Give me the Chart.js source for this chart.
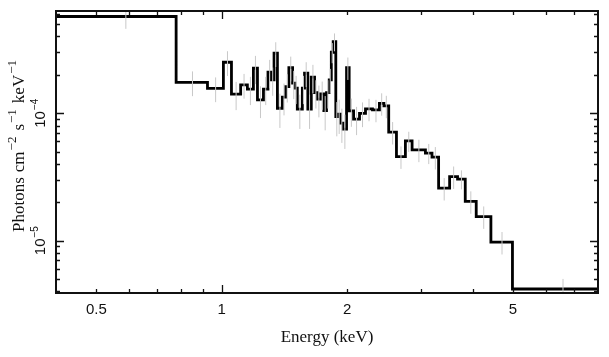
<!DOCTYPE html>
<html><head><meta charset="utf-8">
<script src="https://cdn.jsdelivr.net/npm/chart.js@4/dist/chart.umd.min.js"></script>
<style>html,body{margin:0;padding:0;background:#fff;}#wrap{width:609px;height:357px;position:relative;}</style>
</head><body><div id="wrap"><canvas id="c" width="609" height="357"></canvas></div>
<script>
// ---- data ----
const binEdges = [0.4, 0.777, 0.924, 1.009, 1.055, 1.110, 1.152, 1.191, 1.218, 1.259, 1.291, 1.315, 1.335, 1.360, 1.398, 1.423, 1.449, 1.479, 1.498, 1.518, 1.561, 1.580, 1.609, 1.640, 1.670, 1.695, 1.726, 1.758, 1.784, 1.811, 1.832, 1.851, 1.878, 1.899, 1.928, 1.956, 1.993, 2.022, 2.072, 2.141, 2.213, 2.300, 2.390, 2.450, 2.516, 2.626, 2.759, 2.863, 3.082, 3.196, 3.315, 3.523, 3.681, 3.841, 4.081, 4.426, 4.986, 8.2];
const fluxValues = [5.74e-4, 1.744e-4, 1.565e-4, 2.512e-4, 1.409e-4, 1.667e-4, 1.543e-4, 2.254e-4, 1.271e-4, 1.543e-4, 2.097e-4, 1.825e-4, 2.955e-4, 1.094e-4, 1.335e-4, 1.617e-4, 2.279e-4, 1.719e-4, 1.571e-4, 1.075e-4, 1.571e-4, 2.059e-4, 1.075e-4, 1.917e-4, 1.451e-4, 1.288e-4, 1.417e-4, 1.048e-4, 1.451e-4, 1.825e-4, 3.009e-4, 3.644e-4, 9.40e-5, 9.82e-5, 8.35e-5, 7.49e-5, 2.279e-4, 1.042e-4, 8.97e-5, 9.96e-5, 1.081e-4, 1.061e-4, 1.194e-4, 1.141e-4, 7.10e-5, 4.57e-5, 6.06e-5, 5.16e-5, 4.86e-5, 4.52e-5, 2.58e-5, 3.18e-5, 3.04e-5, 2.03e-5, 1.545e-5, 9.73e-6, 4.17e-6];
const relErrors = [0.2, 0.22, 0.22, 0.22, 0.25, 0.22, 0.25, 0.25, 0.28, 0.25, 0.25, 0.25, 0.22, 0.3, 0.28, 0.25, 0.22, 0.25, 0.25, 0.3, 0.25, 0.22, 0.3, 0.25, 0.25, 0.28, 0.25, 0.3, 0.25, 0.22, 0.18, 0.16, 0.3, 0.3, 0.3, 0.3, 0.2, 0.25, 0.25, 0.22, 0.2, 0.2, 0.2, 0.2, 0.2, 0.2, 0.18, 0.2, 0.18, 0.2, 0.2, 0.2, 0.17, 0.2, 0.2, 0.2, 0.2];
const xTickValues = [0.5, 1, 2, 5];
const xTickLabels = ['0.5', '1', '2', '5'];
const yTickValues = [1e-4, 1e-5];
const yTickLabels = [['10', '\u22124'], ['10', '\u22125']];
const xTitle = 'Energy (keV)';
const yTitleParts = [['Photons', false], ['cm', false], ['\u22122', true], ['s', false], ['\u22121', true], ['keV', false], ['\u22121', true]];

// ---- build datasets ----
const stepPoints = binEdges.map((e, i) => ({x: e, y: fluxValues[Math.min(i, fluxValues.length - 1)]}));
const errPoints = [];
fluxValues.forEach((v, i) => {
  const c = (binEdges[i] + binEdges[i + 1]) / 2;
  errPoints.push({x: c, y: v * (1 - relErrors[i])}, {x: c, y: v * (1 + relErrors[i])}, {x: c, y: null});
});

const SANS = '"Liberation Sans", Arial, sans-serif';
const SERIF = '"Liberation Serif", "Times New Roman", serif';

function drawParts(ctx, parts, gaps, cx, cy, font, supFont, supShift) {
  let total = 0;
  const widths = parts.map(([t, sup], i) => { ctx.font = sup ? supFont : font; const w = ctx.measureText(t).width; total += w + (gaps[i] || 0); return w; });
  let xx = cx - total / 2;
  parts.forEach(([t, sup], i) => {
    xx += (gaps[i] || 0);
    ctx.font = sup ? supFont : font;
    ctx.fillText(t, xx, sup ? cy - supShift : cy);
    xx += widths[i];
  });
}

const framePlugin = {
  id: 'frame',
  afterDraw(chart) {
    const {ctx, chartArea: a, scales: {x, y}} = chart;
    ctx.save();
    ctx.strokeStyle = '#111';
    ctx.lineWidth = 1.3;
    const xMinor = [], yMinor = [];
    for (let k = 5; k <= 9; k++) xMinor.push(k / 10);
    for (let k = 2; k <= 7; k++) xMinor.push(k);
    for (let k = 4; k <= 9; k++) yMinor.push(k * 1e-6);
    for (let k = 2; k <= 9; k++) yMinor.push(k * 1e-5);
    for (let k = 2; k <= 6; k++) yMinor.push(k * 1e-4);
    const xMajor = [1], yMajor = [1e-5, 1e-4];
    ctx.beginPath();
    const xt = (v, len) => { const p = Math.round(x.getPixelForValue(v)) + 0.5; ctx.moveTo(p, a.bottom); ctx.lineTo(p, a.bottom - len); ctx.moveTo(p, a.top); ctx.lineTo(p, a.top + len); };
    const yt = (v, len) => { const p = Math.round(y.getPixelForValue(v)) + 0.5; ctx.moveTo(a.left, p); ctx.lineTo(a.left + len, p); ctx.moveTo(a.right, p); ctx.lineTo(a.right - len, p); };
    xMinor.forEach(v => xt(v, 4)); xMajor.forEach(v => xt(v, 8));
    yMinor.forEach(v => yt(v, 4)); yMajor.forEach(v => yt(v, 8));
    ctx.stroke();
    ctx.lineWidth = 2;
    ctx.strokeRect(a.left, a.top, a.right - a.left, a.bottom - a.top);

    ctx.fillStyle = '#111';
    ctx.textBaseline = 'middle';
    ctx.textAlign = 'center';
    ctx.font = '15px ' + SANS;
    xTickValues.forEach((v, i) => ctx.fillText(xTickLabels[i], x.getPixelForValue(v), a.bottom + 17));
    ctx.font = '17px ' + SERIF;
    ctx.fillText(xTitle, (a.left + a.right) / 2, 338);

    ctx.textAlign = 'left';
    yTickValues.forEach((v, i) => {
      ctx.save();
      ctx.translate(41, y.getPixelForValue(v));
      ctx.rotate(-Math.PI / 2);
      drawParts(ctx, [[yTickLabels[i][0], false], [yTickLabels[i][1], true]], [0, 1], 0, 0, '15px ' + SANS, '10px ' + SANS, 6);
      ctx.restore();
    });
    ctx.save();
    ctx.translate(20, 146);
    ctx.rotate(-Math.PI / 2);
    drawParts(ctx, yTitleParts, [0, 5, 1, 6, 1, 6, 1], 0, 0, '17px ' + SERIF, '13px ' + SERIF, 7);
    ctx.restore();
    ctx.restore();
  }
};

new Chart(document.getElementById('c'), {
  type: 'line',
  data: {
    datasets: [
      {label: 'errors', data: errPoints, borderColor: '#c8c8c8', borderWidth: 1, pointRadius: 0, spanGaps: false, fill: false},
      {label: 'spectrum', data: stepPoints, stepped: 'before', borderColor: '#000', borderWidth: 2.8, pointRadius: 0, fill: false}
    ]
  },
  options: {
    responsive: false,
    animation: false,
    devicePixelRatio: 1,
    layout: {padding: {left: 56, right: 11, top: 11, bottom: 64}},
    plugins: {legend: {display: false}, tooltip: {enabled: false}},
    scales: {
      x: {type: 'logarithmic', min: 0.4, max: 8.0, display: false},
      y: {type: 'logarithmic', min: 3.88e-6, max: 6.34e-4, display: false}
    }
  },
  plugins: [framePlugin]
});
</script></body></html>
